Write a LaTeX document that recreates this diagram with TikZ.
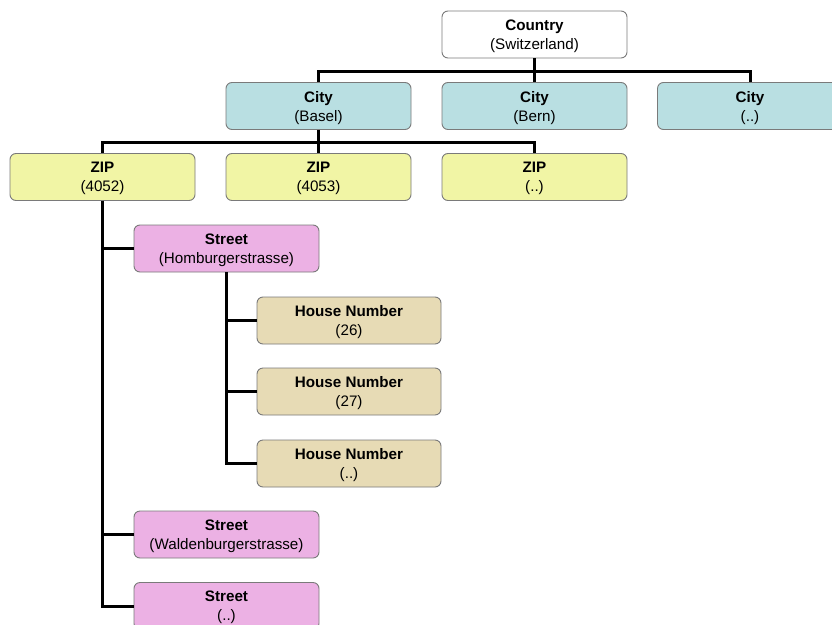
\documentclass[tikz,border=0pt]{standalone}
\usepackage{fontspec}
\setmainfont{Liberation Sans}
\definecolor{countryfill}{HTML}{FFFFFF}
\definecolor{cityfill}{HTML}{B9DFE2}
\definecolor{zipfill}{HTML}{F1F5A5}
\definecolor{streetfill}{HTML}{ECB1E4}
\definecolor{housefill}{HTML}{E7DBB5}
\definecolor{boxline}{HTML}{7A7A7A}
\tikzset{
  entity/.style={rectangle, rounded corners=6pt, draw=boxline, line width=0.9pt,
    minimum width=185pt, minimum height=47pt, inner sep=0pt, align=center,
    text depth=0pt, font=\fontsize{15.2}{19}\selectfont},
  country/.style={entity, fill=countryfill},
  city/.style={entity, fill=cityfill},
  zip/.style={entity, fill=zipfill},
  street/.style={entity, fill=streetfill},
  house/.style={entity, fill=housefill, minimum width=184pt},
  link/.style={line width=3pt, black}
}
\begin{document}
\begin{tikzpicture}[x=1pt, y=-1pt]
\useasboundingbox (0,0) rectangle (832,624);
\fill[white] (0,0) rectangle (832,624);
\clip (0,0) rectangle (832,624);

% hierarchy boxes
\node[country] (country) at (534.5,34.5) {\textbf{Country}\\(Switzerland)};
\node[city] (basel) at (318.5,106) {\textbf{City}\\(Basel)};
\node[city] (bern)  at (534.5,106) {\textbf{City}\\(Bern)};
\node[city] (cityx) at (750,106)   {\textbf{City}\\(..)};
\node[zip] (zipa) at (102.5,177) {\textbf{ZIP}\\(4052)};
\node[zip] (zipb) at (318.5,177) {\textbf{ZIP}\\(4053)};
\node[zip] (zipx) at (534.5,177) {\textbf{ZIP}\\(..)};
\node[street] (homb) at (226.5,248.5) {\textbf{Street}\\(Homburgerstrasse)};
\node[house] (h26) at (349,320.5) {\textbf{House Number}\\(26)};
\node[house] (h27) at (349,391.5) {\textbf{House Number}\\(27)};
\node[house] (hx)  at (349,463.5) {\textbf{House Number}\\(..)};
\node[street] (wald) at (226.5,534.5) {\textbf{Street}\\(Waldenburgerstrasse)};
\node[street] (strx) at (226.5,606)   {\textbf{Street}\\(..)};

% country -> cities
\draw[link] (basel.north) -- ++(0,-11) -| (cityx.north);
\draw[link] (country.south) -- (bern.north);
% Basel -> ZIP codes
\draw[link] (zipa.north) -- ++(0,-11) -| (zipx.north);
\draw[link] (basel.south) -- (zipb.north);
% ZIP 4052 -> streets
\draw[link] (zipa.south) |- (homb.west);
\draw[link] (zipa.south) |- (wald.west);
\draw[link] (zipa.south) |- (strx.west);
% Homburgerstrasse -> house numbers
\draw[link] (homb.south) |- (h26.west);
\draw[link] (homb.south) |- (h27.west);
\draw[link] (homb.south) |- (hx.west);
\end{tikzpicture}
\end{document}
